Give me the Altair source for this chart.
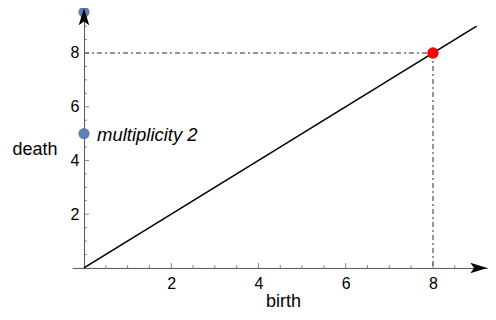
import altair as alt
import pandas as pd

# ---- data ----
diag_birth = [0, 9]
diag_death = [0, 9]
red_birth = [8]
red_death = [8]
blue_birth = [0, 0]
blue_death = [5, 9.52]
label_text = ["multiplicity 2"]
label_birth = [0]
label_death = [5]
guide_birth = [0, 8, 8, 8]
guide_death = [8, 8, 8, 0]
guide_seg = ["h", "h", "v", "v"]
major_ticks = [2, 4, 6, 8]
x_minor = [0.5, 1, 1.5, 2.5, 3, 3.5, 4.5, 5, 5.5, 6.5, 7, 7.5, 8.5]
y_minor = [0.5, 1, 1.5, 2.5, 3, 3.5, 4.5, 5, 5.5, 6.5, 7, 7.5, 8.5, 9]
x_arrow = [9.05]
y_arrow = [9.35]

FONT = "Liberation Sans"
AX = "#555555"

xs = alt.Scale(domain=[-0.27, 9.25], nice=False, zero=False)
ys = alt.Scale(domain=[0, 9.65], nice=False, zero=False)

xaxis = alt.Axis(values=major_ticks, ticks=False, grid=False, domainColor=AX, domainWidth=1,
                 labelFontSize=16, labelColor="black", labelPadding=8, labelFlush=False,
                 labelOverlap=False, title="birth", titleFontSize=18, titleFontWeight="normal",
                 titleColor="black", titleX=210.8, titleY=39, titleAlign="center",
                 titleBaseline="alphabetic")
yaxis = alt.Axis(values=major_ticks, ticks=False, grid=False, domainColor=AX, domainWidth=1,
                 offset=-11.8, labelFontSize=16, labelColor="black", labelPadding=5,
                 labelFlush=False, labelOverlap=False, title="death", titleFontSize=18,
                 titleFontWeight="normal", titleColor="black", titleAngle=0, titleX=-27,
                 titleY=141, titleAlign="right", titleBaseline="middle")


def X():
    return alt.X("birth:Q", scale=xs, axis=xaxis)


def Y():
    return alt.Y("death:Q", scale=ys, axis=yaxis)


diag = pd.DataFrame({"birth": diag_birth, "death": diag_death})
red = pd.DataFrame({"birth": red_birth, "death": red_death})
blue = pd.DataFrame({"birth": blue_birth, "death": blue_death})
lab = pd.DataFrame({"birth": label_birth, "death": label_death, "text": label_text})
guide = pd.DataFrame({"birth": guide_birth, "death": guide_death, "seg": guide_seg,
                      "i": list(range(len(guide_seg)))})
xmaj = pd.DataFrame({"birth": major_ticks, "death": [0] * len(major_ticks)})
xmin = pd.DataFrame({"birth": x_minor, "death": [0] * len(x_minor)})
ymaj = pd.DataFrame({"birth": [0] * len(major_ticks), "death": major_ticks})
ymin = pd.DataFrame({"birth": [0] * len(y_minor), "death": y_minor})
xarr = pd.DataFrame({"birth": x_arrow, "death": [0]})
yarr = pd.DataFrame({"birth": [0], "death": y_arrow})

ARROW_R = "M 1 0 L -1 -0.62 L -0.55 0 L -1 0.62 Z"
ARROW_U = "M 0 -1 L -0.62 1 L 0 0.55 L 0.62 1 Z"

guides = alt.Chart(guide).mark_line(color="#707070", strokeWidth=1.5,
                                     strokeDash=[5, 3, 2, 3]).encode(
    x=X(), y=Y(), detail="seg:N", order="i:Q")
diag_line = alt.Chart(diag).mark_line(color="black", strokeWidth=1.6).encode(x=X(), y=Y())
xt_maj = alt.Chart(xmaj).mark_tick(orient="vertical", size=5, thickness=1, color=AX,
                                   yOffset=-2.5).encode(x=X(), y=Y())
xt_min = alt.Chart(xmin).mark_tick(orient="vertical", size=3, thickness=1, color=AX,
                                   yOffset=-1.5).encode(x=X(), y=Y())
yt_maj = alt.Chart(ymaj).mark_tick(orient="horizontal", size=5, thickness=1, color=AX,
                                   xOffset=2.5).encode(x=X(), y=Y())
yt_min = alt.Chart(ymin).mark_tick(orient="horizontal", size=3, thickness=1, color=AX,
                                   xOffset=1.5).encode(x=X(), y=Y())
blue_pts = alt.Chart(blue).mark_circle(size=125, color="#5E81B5", opacity=1).encode(x=X(), y=Y())
red_pt = alt.Chart(red).mark_circle(size=130, color="#FF0000", opacity=1).encode(x=X(), y=Y())
text = alt.Chart(lab).mark_text(align="left", baseline="middle", dx=13, dy=1, fontSize=18.5,
                                fontStyle="italic", font=FONT, color="black").encode(
    x=X(), y=Y(), text="text:N")
arr_x = alt.Chart(xarr).mark_point(shape=ARROW_R, size=289, filled=True, color="black",
                                   opacity=1, strokeWidth=0).encode(x=X(), y=Y())
arr_y = alt.Chart(yarr).mark_point(shape=ARROW_U, size=289, filled=True, color="black",
                                   opacity=1, strokeWidth=0).encode(x=X(), y=Y())

chart = alt.layer(
    guides, diag_line, xt_min, xt_maj, yt_min, yt_maj, blue_pts, red_pt, text, arr_x, arr_y
).properties(
    width=415.3, height=259.3,
    autosize=alt.AutoSizeParams(type="none"),
    padding={"left": 64.2, "top": 0.65, "right": 0.5, "bottom": 44},
    background="white",
).configure_view(stroke=None).configure_axis(labelFont=FONT, titleFont=FONT)

chart.save("out.html", embed_options={"renderer": "svg", "actions": False})
